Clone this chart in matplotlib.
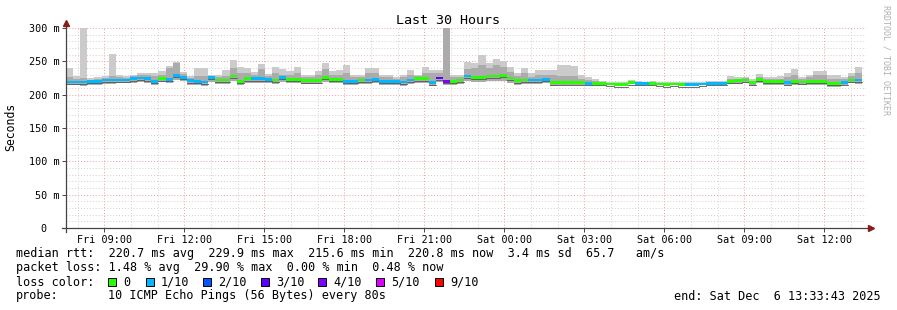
"""
smokeping style latency graph, last 30 hours.
"""

from datetime import datetime, timedelta
import numpy as np
import matplotlib
matplotlib.use('Agg')
import matplotlib.pyplot as plt
import matplotlib.dates as mdates
from matplotlib.patches import Rectangle

plt.rcParams['font.family'] = ['DejaVu Sans Mono']

# # data: one value per 16 minute bin (ms)
START = datetime(2025, 12, 5, 7, 33, 43)
END = datetime(2025, 12, 6, 13, 33, 43)
BIN_MIN = 16

hi = [240, 228, 300, 225, 226, 228, 261, 229, 228, 230, 233, 233, 233, 235, 243, 249, 234, 228, 240,
      240, 230, 230, 237, 252, 241, 240, 234, 246, 231, 241, 238, 236, 241, 230, 230, 236, 247, 236,
      237, 244, 230, 230, 240, 240, 230, 230, 227, 230, 237, 230, 242, 237, 237, 300, 230, 230, 249,
      247, 260, 247, 254, 250, 242, 232, 240, 232, 237, 237, 237, 245, 244, 243, 230, 226, 224,
      221, 219, 219, 219, 222, 220, 219, 221, 219, 219, 219, 219, 219, 219, 219, 220, 220, 220, 228,
      227, 227, 224, 231, 227, 227, 228, 233, 238, 227, 230, 236, 236, 229, 229, 226, 233, 241]
mid = [226, 224, 225, 222, 223, 225, 228, 226, 225, 228, 229, 229, 228, 230, 240, 247, 231, 225, 228,
       228, 226, 226, 228, 240, 232, 232, 229, 238, 228, 232, 230, 230, 232, 226, 226, 230, 238, 230,
       230, 232, 226, 226, 232, 232, 226, 226, 224, 226, 230, 228, 232, 232, 232, 300, 226, 226, 238,
       240, 245, 240, 244, 242, 234, 228, 232, 226, 230, 230, 230, 228, 228, 228, 224, 222, 220,
       219, 218, 217, 217, 220, 219, 219, 219, 218, 217, 218, 217, 217, 217, 218, 219, 219, 219, 224,
       224, 225, 221, 226, 223, 223, 223, 226, 230, 223, 226, 230, 230, 224, 224, 223, 228, 233]
lo = [214, 214, 213, 215, 215, 216, 216, 217, 217, 218, 219, 218, 215, 219, 218, 222, 220, 215, 214,
      213, 219, 216, 216, 220, 214, 217, 218, 218, 217, 216, 219, 217, 217, 216, 216, 216, 219, 217,
      217, 214, 214, 216, 216, 217, 214, 214, 214, 213, 216, 218, 218, 213, 219, 214, 214, 216, 221,
      219, 219, 220, 220, 221, 218, 215, 216, 216, 216, 217, 213, 214, 214, 214, 214, 214, 214,
      215, 214, 213, 213, 216, 215, 215, 215, 214, 213, 214, 213, 213, 213, 214, 215, 215, 215, 216,
      216, 217, 213, 218, 215, 215, 215, 213, 215, 214, 215, 215, 215, 212, 212, 214, 217, 216]
median = [219, 219, 219, 220, 220, 222, 222, 222, 222, 224, 225, 224, 220, 224, 223, 229, 226, 221, 220,
          219, 226, 222, 222, 228, 220, 224, 224, 224, 223, 222, 226, 223, 223, 221, 221, 221, 226, 223,
          223, 220, 220, 222, 222, 223, 220, 220, 220, 219, 222, 224, 224, 218, 225, 220, 220, 222, 228,
          226, 226, 228, 228, 229, 225, 221, 222, 222, 222, 223, 218, 218, 218, 218, 218, 217, 217,
          217, 216, 215, 215, 218, 217, 217, 217, 216, 215, 216, 215, 215, 215, 216, 217, 217, 217, 220,
          221, 222, 218, 223, 220, 220, 220, 218, 220, 219, 220, 220, 220, 217, 217, 218, 222, 222]
loss = [1, 1, 1, 1, 1, 1, 1, 1, 1, 1, 1, 1, 1, 0, 1, 1, 1, 1, 1,
        1, 1, 0, 0, 0, 0, 0, 1, 1, 1, 0, 1, 0, 0, 0, 0, 0, 0, 0,
        0, 1, 1, 0, 1, 1, 1, 1, 1, 1, 1, 0, 0, 1, 3, 4, 0, 0, 1,
        0, 0, 0, 0, 0, 0, 0, 0, 1, 1, 1, 0, 0, 0, 0, 0, 1, 0,
        0, 0, 0, 0, 0, 1, 1, 0, 0, 0, 0, 0, 1, 1, 1, 1, 1, 1, 0,
        0, 0, 0, 0, 0, 0, 0, 1, 0, 0, 0, 0, 0, 0, 0, 1, 0, 1]

loss_labels = ['0', '1/10', '2/10', '3/10', '4/10', '5/10', '9/10']
loss_colors = ['#26ff00', '#00b8ff', '#0059ff', '#5e00ff', '#7e00ff', '#dd00ff', '#ff0000']
loss_color_by_count = {0: '#26ff00', 1: '#00b8ff', 2: '#0059ff', 3: '#5e00ff', 4: '#7e00ff', 5: '#dd00ff', 9: '#ff0000'}

W, H = 897, 310
fig = plt.figure(figsize=(W / 100, H / 100), dpi=100)
fig.patch.set_facecolor('white')
ax = fig.add_axes([66 / W, (H - 228) / H, 800 / W, 200 / H])

edges = [START + timedelta(minutes=BIN_MIN * i) for i in range(len(median) + 1)]
xe = mdates.date2num(edges)

# smoke
ax.stairs(hi, xe, baseline=lo, fill=True, color='#cbcbcb', lw=0, zorder=2)
ax.stairs(mid, xe, baseline=lo, fill=True, color='#ababab', lw=0, zorder=3)
# median colored by loss
for i in range(len(median)):
    c = loss_color_by_count[loss[i]]
    ax.fill_between([xe[i], xe[i + 1]], median[i] - 2.2, median[i] + 2.2, color=c, lw=0, zorder=4)
    ax.plot([xe[i], xe[i + 1]], [median[i] - 3, median[i] - 3], color='#555555', lw=0.6, zorder=3.5)

ax.set_xlim(mdates.date2num(START), mdates.date2num(END))
ax.set_ylim(0, 300)

ax.xaxis.set_major_locator(mdates.HourLocator(byhour=range(0, 24, 3)))
ax.xaxis.set_minor_locator(mdates.HourLocator())
ax.xaxis.set_major_formatter(mdates.DateFormatter('%a %H:%M'))
ax.set_yticks([0, 50, 100, 150, 200, 250, 300])
ax.set_yticklabels(['0  ', '50 m', '100 m', '150 m', '200 m', '250 m', '300 m'])
ax.set_yticks(range(0, 301, 10), minor=True)

ax.grid(which='minor', color='#d0d0d0', linestyle=(0, (1, 2)), linewidth=0.7, zorder=1)
ax.grid(which='major', color='#f09a9a', linestyle=(0, (1, 2)), linewidth=0.7, zorder=1)
ax.set_axisbelow(True)

for s in ax.spines.values():
    s.set_visible(False)
ax.tick_params(axis='both', which='major', labelsize=7.3, length=3, width=0.7, color='#444444')
ax.tick_params(axis='both', which='minor', length=0)
ax.tick_params(axis='x', pad=1.8)
ax.tick_params(axis='y', pad=1.5)

# axis lines with arrows
ax.plot([-0.005, 1.004], [0, 0], transform=ax.transAxes, color='#444444', lw=0.9, clip_on=False, zorder=6)
ax.plot([0, 0], [-0.02, 1.02], transform=ax.transAxes, color='#444444', lw=0.9, clip_on=False, zorder=6)
ax.plot([1.006], [0], transform=ax.transAxes, marker='>', ms=4, color='#8b1a1a', clip_on=False, zorder=7)
ax.plot([0], [1.025], transform=ax.transAxes, marker='^', ms=4, color='#8b1a1a', clip_on=False, zorder=7)

fig.text(448 / W, 1 - 20 / H, 'Last 30 Hours', ha='center', va='center', fontsize=9.6)
fig.text(11 / W, 1 - 127 / H, 'Seconds', rotation=90, ha='center', va='center', fontsize=8.3)
fig.text(886 / W, 1 - 5 / H, 'RRDTOOL / TOBI OETIKER', rotation=270, ha='center', va='top',
         fontsize=6, color='#b0b0b0')

FS = 8.5
row_y = [254, 268, 282, 296]
fig.text(16 / W, 1 - row_y[0] / H,
         'median rtt:  220.7 ms avg  229.9 ms max  215.6 ms min  220.8 ms now  3.4 ms sd  65.7   am/s',
         va='center', fontsize=FS)
fig.text(16 / W, 1 - row_y[1] / H,
         'packet loss: 1.48 % avg  29.90 % max  0.00 % min  0.48 % now', va='center', fontsize=FS)
fig.text(16 / W, 1 - row_y[2] / H, 'loss color:', va='center', fontsize=FS)
sq_x = [108, 146, 203, 261, 318, 376, 435]
for x0, lab, col in zip(sq_x, loss_labels, loss_colors):
    fig.patches.append(Rectangle((x0 / W, 1 - (row_y[2] + 4) / H), 8 / W, 8 / H,
                                 transform=fig.transFigure, facecolor=col, edgecolor='black', lw=0.7))
    fig.text((x0 + 15) / W, 1 - row_y[2] / H, lab, va='center', fontsize=FS)
fig.text(16 / W, 1 - row_y[3] / H, 'probe:', va='center', fontsize=FS)
fig.text(108 / W, 1 - row_y[3] / H, '10 ICMP Echo Pings (56 Bytes) every 80s', va='center', fontsize=FS)
fig.text(881 / W, 1 - row_y[3] / H, 'end: Sat Dec  6 13:33:43 2025', ha='right', va='center', fontsize=FS)

fig.savefig('out.png', dpi=100, facecolor='white')
